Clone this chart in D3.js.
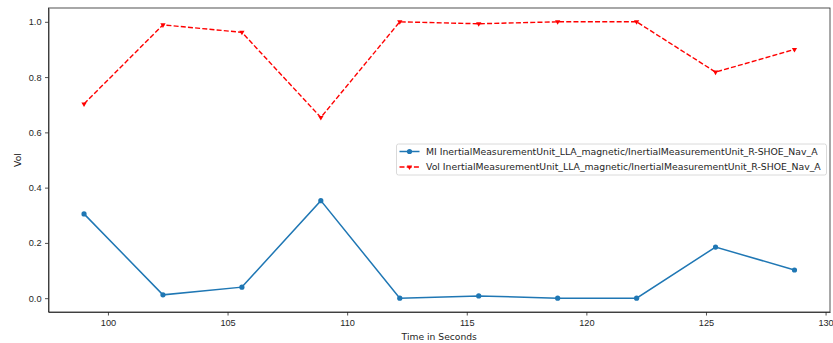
<!DOCTYPE html>
<html>
<head>
<meta charset="utf-8">
<script src="https://cdn.jsdelivr.net/npm/d3@7"></script>
<style>
  body { margin: 0; background: #fff; }
  svg { font-family: "DejaVu Sans", sans-serif; }
  .axis text { font-size: 9.2px; fill: #262626; }
  .axis path, .axis line { stroke: #262626; stroke-width: 0.8; }
</style>
</head>
<body>
<div id="chart"></div>
<script>
// time points (seconds)
const times = [99, 102.3, 105.6, 108.9, 112.2, 115.5, 118.8, 122.1, 125.4, 128.7];
const miValues = [0.305, 0.012, 0.04, 0.353, 0.0, 0.008, 0.0, 0.0, 0.185, 0.102];
const volValues = [0.703, 0.989, 0.962, 0.654, 1.0, 0.993, 1.0, 1.0, 0.818, 0.90];
const xTicks = [100, 105, 110, 115, 120, 125, 130];
const yTicks = [0.0, 0.2, 0.4, 0.6, 0.8, 1.0];
const seriesNames = [
  "MI InertialMeasurementUnit_LLA_magnetic/InertialMeasurementUnit_R-SHOE_Nav_A",
  "Vol InertialMeasurementUnit_LLA_magnetic/InertialMeasurementUnit_R-SHOE_Nav_A"
];

const W = 833, H = 343;
const margin = {top: 8, right: 3, bottom: 31, left: 48.5};
const width = W - margin.left - margin.right;
const height = H - margin.top - margin.bottom;

const svg = d3.select("#chart").append("svg")
  .attr("width", W).attr("height", H);
const g = svg.append("g").attr("transform", `translate(${margin.left},${margin.top})`);

// matplotlib-style 5% margins
const xPad = (d3.max(times) - d3.min(times)) * 0.05;
const x = d3.scaleLinear().domain([d3.min(times) - xPad, d3.max(times) + xPad]).range([0, width]);
const y = d3.scaleLinear().domain([-0.05, 1.05]).range([height, 0]);

g.append("g").attr("class", "axis")
  .attr("transform", `translate(0,${height})`)
  .call(d3.axisBottom(x).tickValues(xTicks).tickSizeInner(3.5).tickSizeOuter(0).tickPadding(3.5).tickFormat(d3.format("d")));
g.append("g").attr("class", "axis")
  .call(d3.axisLeft(y).tickValues(yTicks).tickSizeInner(3.5).tickSizeOuter(0).tickPadding(3.5).tickFormat(d3.format(".1f")));

// frame (top/right spines)
g.append("rect").attr("width", width).attr("height", height)
  .attr("fill", "none").attr("stroke", "#262626").attr("stroke-width", 0.8);

const line = d3.line().x((d, i) => x(times[i])).y(d => y(d));

// MI series
g.append("path").datum(miValues).attr("d", line)
  .attr("fill", "none").attr("stroke", "#1f77b4").attr("stroke-width", 1.5);
g.selectAll(".mi-dot").data(miValues).enter().append("circle")
  .attr("cx", (d, i) => x(times[i])).attr("cy", d => y(d)).attr("r", 2.6)
  .attr("fill", "#1f77b4");

// Vol series
g.append("path").datum(volValues).attr("d", line)
  .attr("fill", "none").attr("stroke", "#ff0000").attr("stroke-width", 1.4)
  .attr("stroke-dasharray", "5,2.2");
const tri = d3.symbol().type(d3.symbolTriangle).size(12);
g.selectAll(".vol-dot").data(volValues).enter().append("path")
  .attr("d", tri)
  .attr("transform", (d, i) => `translate(${x(times[i])},${y(d)}) rotate(180)`)
  .attr("fill", "#ff0000");

// axis labels
svg.append("text").attr("x", margin.left + width / 2).attr("y", H - 3)
  .attr("text-anchor", "middle").attr("font-size", 9.2).attr("fill", "#262626")
  .text("Time in Seconds");
svg.append("text")
  .attr("transform", `translate(21,${margin.top + height / 2}) rotate(-90)`)
  .attr("text-anchor", "middle").attr("font-size", 9.2).attr("fill", "#262626")
  .text("Vol");

// legend
const legend = svg.append("g").attr("transform", "translate(396.5,144)");
legend.append("rect").attr("width", 430).attr("height", 31).attr("rx", 2)
  .attr("fill", "#fff").attr("fill-opacity", 0.8)
  .attr("stroke", "#d0d0d0").attr("stroke-width", 0.8);
const items = legend.selectAll(".item").data(seriesNames).enter().append("g")
  .attr("transform", (d, i) => `translate(3,${7.5 + i * 15.5})`);
items.append("line").attr("x1", 0).attr("x2", 20)
  .attr("stroke", (d, i) => i ? "#ff0000" : "#1f77b4").attr("stroke-width", 1.5)
  .attr("stroke-dasharray", (d, i) => i ? "5,2.2" : null);
items.each(function(d, i) {
  const s = d3.select(this);
  if (i === 0) s.append("circle").attr("cx", 10).attr("r", 2.6).attr("fill", "#1f77b4");
  else s.append("path").attr("d", tri).attr("transform", "translate(10,0) rotate(180)").attr("fill", "#ff0000");
});
items.append("text").attr("x", 26.5).attr("dy", "0.35em")
  .attr("font-size", 9.3).attr("fill", "#262626").text(d => d);
</script>
</body>
</html>
